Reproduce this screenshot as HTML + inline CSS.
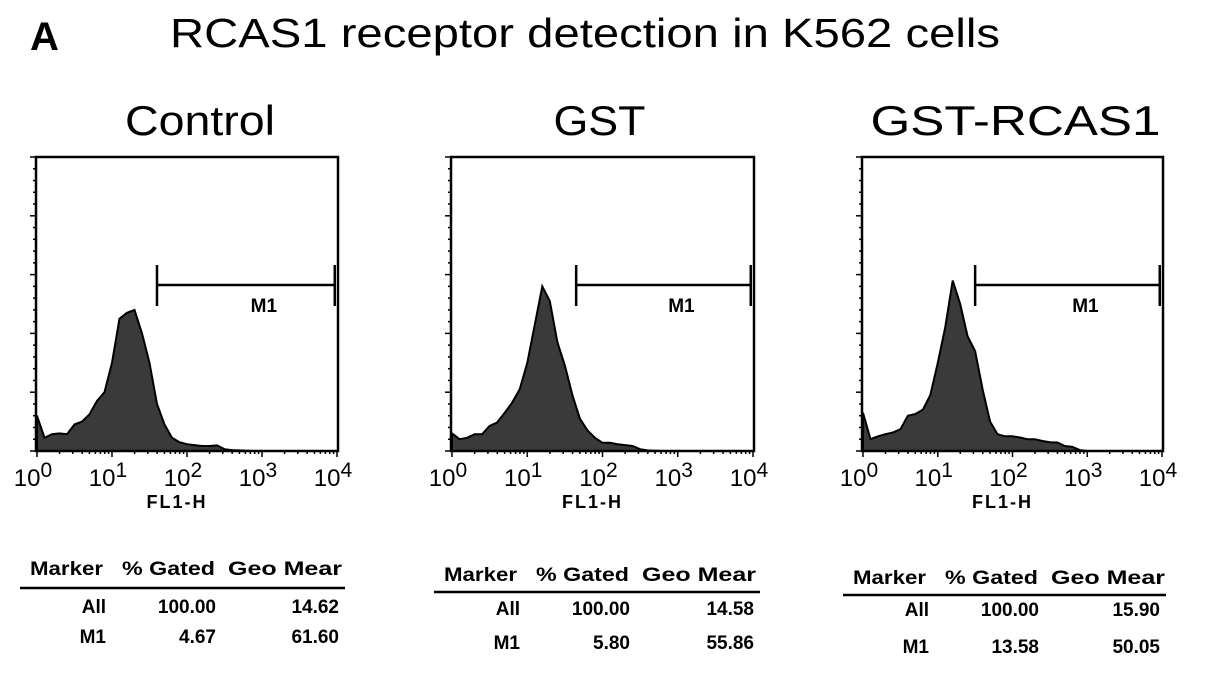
<!DOCTYPE html>
<html><head><meta charset="utf-8"><style>
body{margin:0;background:#fff;width:1205px;height:676px;overflow:hidden}
svg{display:block}
text{font-family:"Liberation Sans",sans-serif;fill:#000}
</style></head><body>
<svg id="fig" width="1205" height="676" viewBox="0 0 1205 676">
<text x="30" y="50" font-size="40" font-weight="bold">A</text>
<text x="170" y="47" font-size="41" textLength="830" lengthAdjust="spacingAndGlyphs">RCAS1 receptor detection in K562 cells</text>
</svg>
<script>
// x = log10 decade position (0..4), values = % of full scale height
const decades = [0,0.1,0.2,0.3,0.4,0.5,0.6,0.7,0.8,0.9,1.0,1.1,1.2,1.3,1.4,1.5,1.6,1.7,1.8,1.9,2.0,2.1,2.2,2.3,2.4,2.5,2.6,2.7,2.8,2.9,3.0,3.5,4.0];
const controlCounts = [12,4.5,5.7,6,5.7,9,10,12.5,17,20,30,45,47,48,40,30,16,9,4.5,3,2.3,2,1.7,1.7,1.9,0.6,0.3,0.2,0.1,0,0,0,0];
const gstCounts = [6,4,4.5,5.7,5.7,8.5,9.7,13,16.5,21,30,43,56,51,37,29,19,11,7,4.5,2.8,2.8,2.3,2,1.7,0.6,0.2,0.1,0,0,0,0,0];
const gstRcasCounts = [13,4,5,5.7,6.3,7.4,12,12.6,14,19,30,42,58,50,39,34,21,10,5.7,5,5,4.6,4,4,3.4,3,2.9,1.7,1.4,0.3,0,0,0];
const panelTitles = ["Control","GST","GST-RCAS1"];
const markerStart = [1.6,1.65,1.5];
const tickLabels = ["0","1","2","3","4"];
const tableHeader = ["Marker","% Gated","Geo Mear"];
const rowLabels = ["All","M1"];
const gatedValues = [["100.00","4.67"],["100.00","5.80"],["100.00","13.58"]];
const geoValues = [["14.62","61.60"],["14.58","55.86"],["15.90","50.05"]];

const NS="http://www.w3.org/2000/svg";
const svg=document.getElementById('fig');
function mk(tag,attrs,parent){const e=document.createElementNS(NS,tag);for(const k in attrs)e.setAttribute(k,attrs[k]);(parent||svg).appendChild(e);return e;}
const panels=[{l:36,r:338,tb:[568,588,606,636],tl:20,tr:345,tw:150,tx:13},{l:451,r:754,tb:[574,592,608,642],tl:434,tr:760,tw:92,tx:-3},{l:862,r:1163,tb:[577,595,609,646],tl:843,tr:1166,tw:290,tx:3}];
const allCounts=[controlCounts,gstCounts,gstRcasCounts];
const plotTop=157,plotBot=451;
panels.forEach((p,i)=>{
  const g=mk('g',{});
  
  
  const xs=d=>p.l+1+d*(p.r-p.l-2)/4;
  const ys=v=>plotBot-v/100*(plotBot-plotTop);
  const t=mk('text',{x:(p.l+p.r)/2+p.tx,y:135,'font-size':42,'text-anchor':'middle',textLength:p.tw,lengthAdjust:'spacingAndGlyphs'},g);
  t.textContent=panelTitles[i];
  
  
  const counts=allCounts[i];
  let d='M'+xs(0)+','+plotBot;
  decades.forEach((x,j)=>{d+=' L'+xs(x).toFixed(1)+','+ys(counts[j]).toFixed(1);});
  d+=' L'+xs(4)+','+plotBot+' Z';
  const h=mk('path',{d:d,fill:'#3a3a3a',stroke:'#000','stroke-width':2,'stroke-linejoin':'miter'},g);
  
  
  const box=mk('rect',{x:p.l,y:plotTop,width:p.r-p.l,height:plotBot-plotTop,fill:'none',stroke:'#000','stroke-width':2.5},g);
  
  
  for(let k=0;k<=25;k++){const y=plotBot-k*(plotBot-plotTop)/25;const len=k%5==0?6:3;
    mk('line',{x1:p.l-len,x2:p.l,y1:y,y2:y,stroke:'#000','stroke-width':1.5},g);}
  for(let dd=0;dd<4;dd++){for(let m=1;m<=9;m++){const x=xs(dd+Math.log10(m));const len=m==1?6:3;
    mk('line',{x1:x,x2:x,y1:plotBot,y2:plotBot+len,stroke:'#000','stroke-width':1.5},g);}}
  mk('line',{x1:xs(4),x2:xs(4),y1:plotBot,y2:plotBot+6,stroke:'#000','stroke-width':1.5},g);
  tickLabels.forEach((lab,k)=>{const tx=mk('text',{x:xs(k)-4,y:486,'font-size':24,'text-anchor':'middle'},g);
    tx.appendChild(document.createTextNode('10'));
    const sp=mk('tspan',{dy:-9,'font-size':21},tx);sp.textContent=lab;
    
    });
  const xl=mk('text',{x:xs(2)-10,y:508,'font-size':18,'font-weight':'bold','text-anchor':'middle','letter-spacing':2},g);
  xl.textContent='FL1-H';
  
  
  const m0=xs(markerStart[i]),m1=xs(3.97);
  const mg=mk('g',{stroke:'#000','stroke-width':2.5},g);
  
  
  mk('line',{x1:m0,x2:m1,y1:285,y2:285},mg);
  mk('line',{x1:m0,x2:m0,y1:265,y2:306},mg);
  mk('line',{x1:m1,x2:m1,y1:265,y2:306},mg);
  const ml=mk('text',{x:(m0+m1)/2+18,y:312,'font-size':19,'font-weight':'bold','text-anchor':'middle'},g);
  ml.textContent='M1';
  
  
  const tg=mk('g',{'font-size':19,'font-weight':'bold'},g);
  
  
  const [hy,ly,r1,r2]=p.tb;
  const hOff=[10,102,208],hW=[73,93,114];
  tableHeader.forEach((s,k)=>{const e=mk('text',{x:p.tl+hOff[k],y:hy+7,textLength:hW[k],lengthAdjust:'spacingAndGlyphs'},tg);e.textContent=s;});
  mk('line',{x1:p.tl,x2:p.tr,y1:ly,y2:ly,stroke:'#000','stroke-width':2.5},tg);
  const c1=p.tl+86,c2=p.tl+196,c3=p.tr-6;
  [r1,r2].forEach((ry,k)=>{
    let e=mk('text',{x:c1,y:ry+7,'text-anchor':'end'},tg);e.textContent=rowLabels[k];
    e=mk('text',{x:c2,y:ry+7,'text-anchor':'end'},tg);e.textContent=gatedValues[i][k];
    e=mk('text',{x:c3,y:ry+7,'text-anchor':'end'},tg);e.textContent=geoValues[i][k];
  });
});
</script>
</body></html>
